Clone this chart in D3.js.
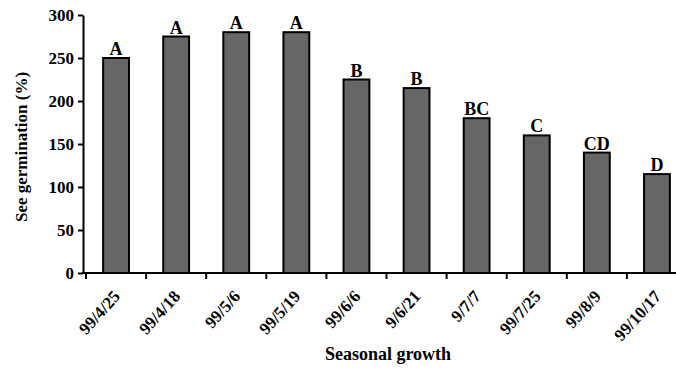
<!DOCTYPE html>
<html>
<head>
<meta charset="utf-8">
<script src="https://cdn.jsdelivr.net/npm/d3@7"></script>
<style>
  html, body { margin: 0; padding: 0; background: #fff; }
  svg text { font-family: "Liberation Serif", "Times New Roman", serif; font-weight: bold; fill: #000; }
</style>
</head>
<body>
<svg id="chart" width="676" height="368"></svg>
<script>
// Sampling dates (x categories)
const dates = ["99/4/25", "99/4/18", "99/5/6", "99/5/19", "99/6/6", "9/6/21", "9/7/7", "99/7/25", "99/8/9", "99/10/17"];
// Germination (%) for each date
const germination = [250, 275, 280, 280, 225, 215, 180, 160, 140, 115];
// Significance groups shown above bars
const groups = ["A", "A", "A", "A", "B", "B", "BC", "C", "CD", "D"];
// Y axis ticks
const yTicks = [0, 50, 100, 150, 200, 250, 300];

const svg = d3.select("#chart");

const x = d3.scaleBand()
  .domain(dates)
  .range([86, 687])
  .paddingInner(0.57)
  .paddingOuter(0.285);

const y = d3.scaleLinear().domain([0, 300]).range([273, 15]);

const step = x.step();

// Bars
svg.append("g").selectAll("rect")
  .data(dates)
  .join("rect")
  .attr("x", d => x(d))
  .attr("y", (d, i) => y(germination[i]))
  .attr("width", x.bandwidth())
  .attr("height", (d, i) => y(0) - y(germination[i]))
  .attr("fill", "#666666")
  .attr("stroke", "#000")
  .attr("stroke-width", 2);

// Group letters
svg.append("g").selectAll("text")
  .data(dates)
  .join("text")
  .attr("x", d => x(d) + x.bandwidth() / 2)
  .attr("y", (d, i) => y(germination[i]) - 3)
  .attr("text-anchor", "middle")
  .attr("font-size", 18)
  .text((d, i) => groups[i]);

// Y axis
const yAxis = svg.append("g")
  .attr("transform", "translate(83,0)")
  .call(d3.axisLeft(y).tickValues(yTicks).tickSize(5).tickSizeOuter(0).tickPadding(4));
yAxis.select(".domain").attr("stroke-width", 2).attr("stroke", "#000");
yAxis.selectAll(".tick line").attr("stroke-width", 2).attr("stroke", "#000");
yAxis.selectAll(".tick text")
  .attr("font-family", "Liberation Serif, serif")
  .attr("font-weight", "bold")
  .attr("font-size", 17)
  .attr("fill", "#000");

// X axis line and ticks at category boundaries
const xAxisG = svg.append("g");
xAxisG.append("line")
  .attr("x1", 82).attr("x2", x.range()[1])
  .attr("y1", y(0)).attr("y2", y(0))
  .attr("stroke", "#000").attr("stroke-width", 2);
const boundaries = dates.map(d => x(d) + x.bandwidth() / 2 - step / 2);
xAxisG.selectAll("line.tick")
  .data(boundaries)
  .join("line")
  .attr("class", "tick")
  .attr("x1", d => d).attr("x2", d => d)
  .attr("y1", y(0)).attr("y2", y(0) + 6)
  .attr("stroke", "#000").attr("stroke-width", 2);

// Rotated date labels
xAxisG.selectAll("text")
  .data(dates)
  .join("text")
  .attr("transform", d => `translate(${x(d) + x.bandwidth() / 2 + 5},${y(0) + 24}) rotate(-48)`)
  .attr("text-anchor", "end")
  .attr("font-size", 17)
  .text(d => d);

// Axis titles
svg.append("text")
  .attr("x", 388).attr("y", 360)
  .attr("text-anchor", "middle")
  .attr("font-size", 18)
  .text("Seasonal growth");

svg.append("text")
  .attr("transform", "translate(27,147) rotate(-90)")
  .attr("text-anchor", "middle")
  .attr("font-size", 17)
  .text("See germination (%)");
</script>
</body>
</html>
